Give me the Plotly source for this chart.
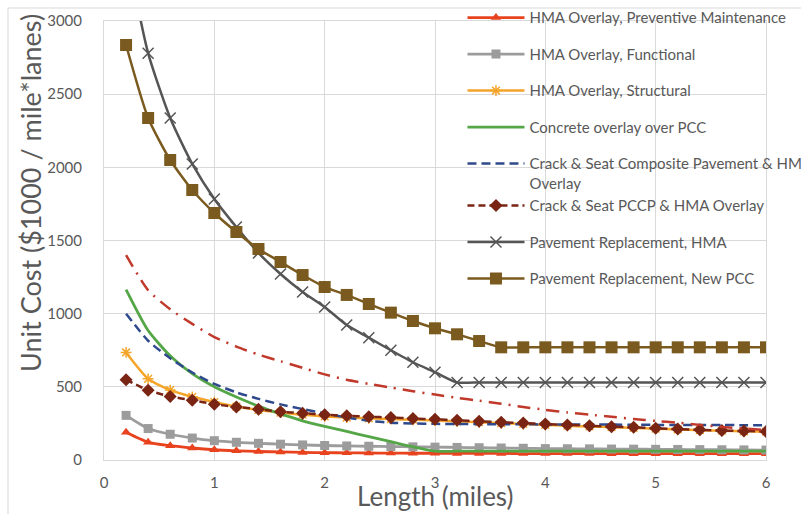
import plotly.graph_objects as go

# Project length in miles (sample points every 0.2 mile)
length_mi = [0.2, 0.4, 0.6, 0.8, 1.0, 1.2, 1.4, 1.6, 1.8, 2.0,
             2.2, 2.4, 2.6, 2.8, 3.0, 3.2, 3.4, 3.6, 3.8, 4.0,
             4.2, 4.4, 4.6, 4.8, 5.0, 5.2, 5.4, 5.6, 5.8, 6.0]

# Unit cost, $1000 per mile*lane
hma_preventive = [189, 121, 98, 82, 70, 63, 58, 55, 52, 50,
                  49, 48, 47, 46, 46, 45, 45, 45, 44, 44,
                  44, 44, 43, 43, 43, 43, 43, 43, 43, 43]
hma_functional = [305, 215, 176, 150, 132, 121, 114, 108, 103, 99,
                  96, 94, 92, 90, 88, 86, 84, 82, 80, 78,
                  77, 76, 75, 74, 73, 72, 71, 70, 69, 68]
hma_structural = [735, 555, 478, 432, 396, 365, 342, 324, 310, 298,
                  290, 285, 280, 275, 270, 264, 258, 252, 246, 240,
                  234, 229, 224, 219, 214, 209, 204, 200, 196, 193]
concrete_overlay = [1165, 885, 712, 590, 500, 430, 368, 315, 268, 230,
                    195, 160, 125, 90, 60, 60, 60, 60, 60, 60,
                    60, 60, 60, 60, 60, 60, 60, 60, 60, 60]
crack_seat_composite = [1000, 815, 695, 598, 520, 462, 418, 380, 348, 318,
                        290, 268, 255, 250, 247, 246, 245, 245, 244, 243,
                        243, 242, 242, 241, 240, 240, 239, 239, 238, 238]
crack_seat_pccp = [548, 477, 434, 409, 381, 363, 347, 330, 320, 310,
                   302, 296, 290, 284, 278, 271, 264, 258, 252, 246,
                   240, 234, 228, 223, 217, 211, 206, 201, 198, 195]
replacement_hma = [3500, 2780, 2337, 2023, 1784, 1592, 1415, 1271, 1148, 1045,
                   922, 836, 750, 668, 600, 530, 530, 530, 530, 530,
                   530, 530, 530, 530, 530, 530, 530, 530, 530, 530]
replacement_pcc = [2836, 2337, 2050, 1845, 1688, 1558, 1442, 1353, 1264, 1182,
                   1128, 1066, 1007, 950, 900, 859, 813, 770, 770, 770,
                   770, 770, 770, 770, 770, 770, 770, 770, 770, 770]
reference_curve = [1400, 1160, 1030, 930, 840, 775, 720, 675, 630, 585,
                   548, 520, 495, 470, 447, 425, 405, 385, 362, 343,
                   325, 310, 295, 280, 267, 255, 240, 226, 215, 205]

x_ticks = [0, 1, 2, 3, 4, 5, 6]
y_ticks = [0, 500, 1000, 1500, 2000, 2500, 3000]

TEXT = "#595959"
GRID = "#d9d9d9"
FONT = "Lato, 'Open Sans', sans-serif"

fig = go.Figure()

def add(name, y, color, group, dash="solid", width=2.5, symbol=None, msize=9,
        mline=0, show=True):
    mode = "lines+markers" if symbol else "lines"
    marker = dict(symbol=symbol, size=msize, color=color,
                  line=dict(width=mline, color=color)) if symbol else None
    fig.add_trace(go.Scatter(
        x=length_mi, y=y, name=name, mode=mode,
        line=dict(color=color, width=width, dash=dash, shape="spline", smoothing=0.6),
        marker=marker, legendgroup=group, showlegend=show,
    ))

add("HMA Overlay, Preventive Maintenance", hma_preventive, "#e8431e", "g1",
    symbol="triangle-up", msize=9, width=2.8)
add("HMA Overlay, Functional", hma_functional, "#9c9c9c", "g2",
    symbol="square", msize=9, width=2.8)
add("HMA Overlay, Structural", hma_structural, "#f4a52a", "g3",
    symbol="asterisk-open", msize=9, mline=1.5)
add("Concrete overlay over PCC", concrete_overlay, "#55a647", "g4", width=2.8)
add("Crack & Seat Composite Pavement & HMA<br>Overlay", crack_seat_composite,
    "#2f4a8c", "g5", dash="9px,5px")
add("Crack & Seat PCCP & HMA Overlay", crack_seat_pccp, "#7a2414", "g5",
    dash="7px,4px", symbol="diamond", msize=10)
add("Pavement Replacement, HMA", replacement_hma, "#555555", "g6",
    symbol="x-thin-open", msize=11, mline=1.5)
add("Pavement Replacement, New PCC", replacement_pcc, "#7a5a1e", "g7",
    symbol="square", msize=12)
add("Reference", reference_curve, "#c0392b", "g8", dash="13px,7px,2px,7px",
    show=False)

fig.update_layout(
    width=801, height=514,
    margin=dict(l=104, r=35, t=21, b=54, autoexpand=False),
    paper_bgcolor="white", plot_bgcolor="white",
    font=dict(family=FONT, color=TEXT, size=15),
    legend=dict(
        x=0.5415, y=0.71, xanchor="left", yanchor="middle",
        bgcolor="rgba(0,0,0,0)", font=dict(size=15, color=TEXT, family=FONT),
        itemwidth=57, tracegroupgap=14, traceorder="grouped", valign="top",
    ),
    xaxis=dict(
        range=[0, 6], tickvals=x_ticks, showgrid=True, gridcolor=GRID,
        zeroline=False, showline=True, linecolor=GRID, mirror=True,
        ticks="", ticklabelstandoff=9, tickfont=dict(size=15, color=TEXT),
    ),
    yaxis=dict(
        range=[0, 3000], tickvals=y_ticks, showgrid=True, gridcolor=GRID,
        zeroline=False, showline=True, linecolor=GRID, mirror=True,
        ticks="", ticklabelstandoff=18, tickfont=dict(size=15, color=TEXT),
    ),
    annotations=[
        dict(text="Unit Cost ($1000 / mile*lanes)", xref="paper", yref="paper",
             x=-0.112, y=0.608, xanchor="center", yanchor="middle",
             textangle=-90, showarrow=False,
             font=dict(size=27, color=TEXT, family=FONT)),
        dict(text="Length (miles)", xref="paper", yref="paper",
             x=0.5, y=-0.082, xanchor="center", yanchor="middle",
             showarrow=False,
             font=dict(size=26, color=TEXT, family=FONT)),
    ],
    shapes=[
        dict(type="rect", xref="paper", yref="paper",
             x0=-0.145, y0=-0.2, x1=1.2, y1=1.0296,
             line=dict(color=GRID, width=1), layer="below"),
    ],
)

fig.write_html("out.html")
